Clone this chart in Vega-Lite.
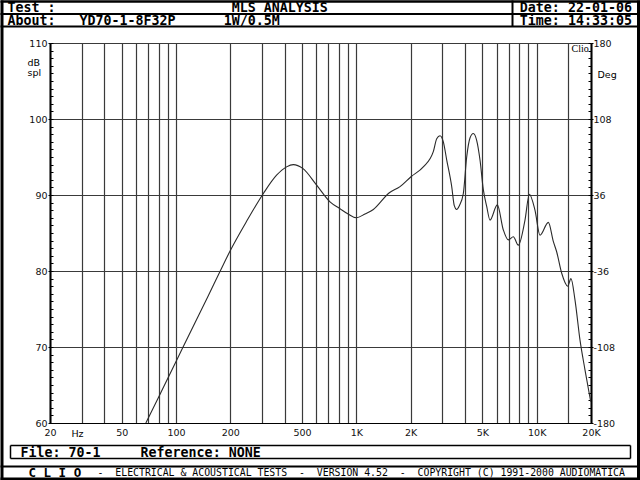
{
  "$schema": "https://vega.github.io/schema/vega-lite/v6.json",
  "width": 541,
  "height": 380,
  "autosize": {"type": "none"},
  "padding": {"left": 50, "top": 43, "right": 49, "bottom": 57},
  "background": "white",
  "config": {
    "font": "DejaVu Sans",
    "view": {"stroke": "black", "strokeWidth": 1},
    "axis": {"labelFont": "DejaVu Sans", "labelFontSize": 9.5, "labelColor": "#111111", "titleColor": "black", "titleFontWeight": "normal", "labelFlush": false, "labelOverlap": false, "labelBound": false}
  },
  "data": {
    "values": [
      {"f": 68, "db": 60},
      {"f": 80, "db": 63.4},
      {"f": 100, "db": 68.1},
      {"f": 125, "db": 72.8},
      {"f": 150, "db": 76.6},
      {"f": 175, "db": 79.9},
      {"f": 200, "db": 82.7},
      {"f": 247, "db": 86.6},
      {"f": 305, "db": 90.2},
      {"f": 361, "db": 92.6},
      {"f": 410, "db": 93.7},
      {"f": 447, "db": 94},
      {"f": 504, "db": 93.5},
      {"f": 602, "db": 91.3},
      {"f": 714, "db": 89.1},
      {"f": 811, "db": 88.2},
      {"f": 900, "db": 87.5},
      {"f": 1000, "db": 87},
      {"f": 1116, "db": 87.5},
      {"f": 1242, "db": 88.1},
      {"f": 1523, "db": 90.3},
      {"f": 1746, "db": 91.1},
      {"f": 2008, "db": 92.4},
      {"f": 2350, "db": 93.7},
      {"f": 2670, "db": 95.7},
      {"f": 2789, "db": 97.4},
      {"f": 2908, "db": 97.8},
      {"f": 3035, "db": 97},
      {"f": 3170, "db": 94.6},
      {"f": 3378, "db": 91.1},
      {"f": 3491, "db": 88.6},
      {"f": 3600, "db": 88.1},
      {"f": 3724, "db": 88.6},
      {"f": 3918, "db": 90.2},
      {"f": 4090, "db": 95},
      {"f": 4265, "db": 97.5},
      {"f": 4450, "db": 98.1},
      {"f": 4645, "db": 97.2},
      {"f": 4848, "db": 94.6},
      {"f": 5058, "db": 90.7},
      {"f": 5280, "db": 88.5},
      {"f": 5508, "db": 86.7},
      {"f": 6046, "db": 88.7},
      {"f": 6530, "db": 85.4},
      {"f": 6956, "db": 84.1},
      {"f": 7418, "db": 84.5},
      {"f": 7910, "db": 83.4},
      {"f": 8610, "db": 86.7},
      {"f": 9100, "db": 90.1},
      {"f": 9780, "db": 88},
      {"f": 10430, "db": 84.7},
      {"f": 11600, "db": 86.4},
      {"f": 12360, "db": 83.9},
      {"f": 12910, "db": 82.5},
      {"f": 13760, "db": 79.7},
      {"f": 14860, "db": 78},
      {"f": 15490, "db": 79},
      {"f": 16300, "db": 76.2},
      {"f": 17380, "db": 70.9},
      {"f": 18520, "db": 67},
      {"f": 19930, "db": 62.8}
    ]
  },
  "layer": [
    {
      "mark": {"type": "line", "color": "#2a2a2a", "strokeWidth": 1.1, "interpolate": "monotone", "clip": true},
      "encoding": {
        "x": {
          "field": "f", "type": "quantitative",
          "scale": {"type": "log", "domain": [20, 20000], "nice": false},
          "axis": {
            "orient": "bottom",
            "values": [20, 30, 40, 50, 60, 70, 80, 90, 100, 200, 300, 400, 500, 600, 700, 800, 900, 1000, 2000, 3000, 4000, 5000, 6000, 7000, 8000, 9000, 10000, 15000, 20000],
            "labelExpr": "indexof([20,50,100,200,500],datum.value)>=0 ? ''+datum.value : (indexof([1000,2000,5000,10000,20000],datum.value)>=0 ? (datum.value/1000)+'K' : '')",
            "ticks": false, "labelPadding": 4,
            "grid": true, "gridColor": "#3a3a3a", "gridWidth": 1.2,
            "domainColor": "black", "domainWidth": 1,
            "title": "Hz", "titleX": 27, "titleY": 10, "titleBaseline": "middle", "titleAlign": "center",
            "titleFont": "DejaVu Sans", "titleFontSize": 9.5, "titleFontWeight": "normal"
          }
        },
        "y": {
          "field": "db", "type": "quantitative",
          "scale": {"domain": [60, 110], "nice": false, "zero": false},
          "axis": {
            "orient": "left", "values": [60, 70, 80, 90, 100, 110],
            "grid": true, "gridColor": "#3a3a3a", "gridWidth": 1.2,
            "tickSize": 2, "tickColor": "black", "labelPadding": 1,
            "domainColor": "black", "domainWidth": 2,
            "title": ["dB", "spl"], "titleAngle": 0, "titleAlign": "left", "titleBaseline": "alphabetic",
            "titleX": -23, "titleY": 22, "titleLineHeight": 10.5, "titleFont": "DejaVu Sans", "titleFontSize": 9.5
          }
        }
      }
    },
    {
      "mark": {"type": "point", "opacity": 0},
      "encoding": {
        "x": {
          "datum": 0.5, "type": "quantitative",
          "scale": {"domain": [0, 1], "range": [-50, 590], "nice": false, "zero": false},
          "axis": {
            "orient": "top", "offset": 42, "labels": false, "ticks": false, "grid": false, "domain": true, "domainWidth": 2.5, "domainColor": "black",
            "title": "About:\u00a0\u00a0\u00a0YD70-1-8F32P\u00a0\u00a0\u00a0\u00a0\u00a0\u00a01W/0.5M\u00a0\u00a0\u00a0\u00a0\u00a0\u00a0\u00a0\u00a0\u00a0\u00a0\u00a0\u00a0\u00a0\u00a0\u00a0\u00a0\u00a0\u00a0\u00a0\u00a0\u00a0\u00a0\u00a0\u00a0\u00a0\u00a0\u00a0\u00a0\u00a0\u00a0Time: 14:33:05",
            "titleAngle": 0, "titleAlign": "left", "titleBaseline": "alphabetic", "titleAnchor": "start",
            "titleX": -43, "titleY": 23.9,
            "titleFont": "DejaVu Sans Mono", "titleFontSize": 13.3, "titleFontWeight": "bold", "titleColor": "black"
          }
        },
        "y": {
          "datum": 85, "type": "quantitative",
          "scale": {"domain": [60, 110], "nice": false, "zero": false},
          "axis": {
            "orient": "left",
            "values": [60,61,62,63,64,65,66,67,68,69,70,71,72,73,74,75,76,77,78,79,80,81,82,83,84,85,86,87,88,89,90,91,92,93,94,95,96,97,98,99,100,101,102,103,104,105,106,107,108,109,110],
            "labels": false, "grid": false, "domain": false,
            "tickSize": -3, "tickColor": "black", "tickWidth": 1,
            "title": "Test :\u00a0\u00a0\u00a0\u00a0\u00a0\u00a0\u00a0\u00a0\u00a0\u00a0\u00a0\u00a0\u00a0\u00a0\u00a0\u00a0\u00a0\u00a0\u00a0\u00a0\u00a0\u00a0MLS ANALYSIS\u00a0\u00a0\u00a0\u00a0\u00a0\u00a0\u00a0\u00a0\u00a0\u00a0\u00a0\u00a0\u00a0\u00a0\u00a0\u00a0\u00a0\u00a0\u00a0\u00a0\u00a0\u00a0\u00a0\u00a0Date: 22-01-06",
            "titleAngle": 0, "titleAlign": "left", "titleBaseline": "alphabetic",
            "titleX": -43, "titleY": -31.5,
            "titleFont": "DejaVu Sans Mono", "titleFontSize": 13.3, "titleFontWeight": "bold", "titleColor": "black"
          }
        }
      }
    },
    {
      "mark": {"type": "point", "opacity": 0},
      "encoding": {
        "x": {
          "datum": 0.5, "type": "quantitative",
          "scale": {"domain": [0, 1], "range": [-50, 590], "nice": false, "zero": false},
          "axis": {"orient": "top", "offset": 29.5, "labels": false, "ticks": false, "grid": false, "domain": true, "domainWidth": 2, "domainColor": "black", "title": null}
        },
        "y": {
          "datum": 85, "type": "quantitative",
          "scale": {"domain": [60, 110], "nice": false, "zero": false},
          "axis": {
            "orient": "right", "values": [60, 70, 80, 90, 100, 110],
            "labelExpr": "''+round((datum.value-85)*7.2)",
            "grid": false, "tickSize": 2, "tickColor": "black", "labelPadding": 0,
            "domainColor": "black", "domainWidth": 2,
            "title": "Deg", "titleAngle": 0, "titleAlign": "left", "titleBaseline": "alphabetic",
            "titleX": 6, "titleY": 34, "titleFont": "DejaVu Sans", "titleFontSize": 9.5
          }
        }
      }
    },
    {
      "mark": {"type": "point", "opacity": 0},
      "encoding": {
        "x": {
          "datum": 0.5, "type": "quantitative",
          "scale": {"domain": [0, 1], "range": [-50, 590], "nice": false, "zero": false},
          "axis": {"orient": "top", "offset": 17, "labels": false, "ticks": false, "grid": false, "domain": true, "domainWidth": 2, "domainColor": "black", "title": null}
        },
        "y": {
          "datum": 85, "type": "quantitative",
          "scale": {"domain": [60, 110], "nice": false, "zero": false},
          "axis": {
            "orient": "right",
            "values": [60,61,62,63,64,65,66,67,68,69,70,71,72,73,74,75,76,77,78,79,80,81,82,83,84,85,86,87,88,89,90,91,92,93,94,95,96,97,98,99,100,101,102,103,104,105,106,107,108,109,110],
            "labels": false, "grid": false, "domain": false,
            "tickSize": -3, "tickColor": "black", "tickWidth": 1,
            "title": "File: 70-1\u00a0\u00a0\u00a0\u00a0\u00a0Reference: NONE",
            "titleAngle": 0, "titleAlign": "left", "titleBaseline": "alphabetic",
            "titleX": -571, "titleY": 413.3,
            "titleFont": "DejaVu Sans Mono", "titleFontSize": 13.3, "titleFontWeight": "bold", "titleColor": "black"
          }
        }
      }
    },
    {
      "mark": {"type": "point", "opacity": 0},
      "encoding": {
        "x": {
          "datum": 0.5, "type": "quantitative",
          "scale": {"domain": [0, 1], "range": [-50, 590], "nice": false, "zero": false},
          "axis": {"orient": "bottom", "offset": 43, "labels": false, "ticks": false, "grid": false, "domain": true, "domainWidth": 2, "domainColor": "black", "title": null}
        },
        "y": {
          "datum": 0.5, "type": "quantitative",
          "scale": {"domain": [0, 1], "range": [437, -43], "nice": false, "zero": false},
          "axis": {
            "orient": "left", "offset": 48.5,
            "labels": false, "ticks": false, "grid": false,
            "domain": true, "domainWidth": 3, "domainColor": "black",
            "title": "-\u00a0\u00a0ELECTRICAL & ACOUSTICAL TESTS\u00a0\u00a0-\u00a0\u00a0VERSION 4.52\u00a0\u00a0-\u00a0\u00a0COPYRIGHT (C) 1991-2000 AUDIOMATICA",
            "titleAngle": 0, "titleAlign": "left", "titleBaseline": "alphabetic",
            "titleX": 95.5, "titleY": 432.6,
            "titleFont": "DejaVu Sans Mono", "titleFontSize": 9.85, "titleFontWeight": "normal", "titleColor": "black"
          }
        }
      }
    },
    {
      "mark": {"type": "point", "opacity": 0},
      "encoding": {
        "x": {
          "datum": 0.5, "type": "quantitative",
          "scale": {"domain": [0, 1], "range": [-50, 590], "nice": false, "zero": false},
          "axis": {"orient": "bottom", "offset": 55.5, "labels": false, "ticks": false, "grid": false, "domain": true, "domainWidth": 3, "domainColor": "black", "title": null}
        },
        "y": {
          "datum": 0.5, "type": "quantitative",
          "scale": {"domain": [0, 1], "range": [437, -43], "nice": false, "zero": false},
          "axis": {
            "orient": "right", "offset": 47,
            "labels": false, "ticks": false, "grid": false,
            "domain": true, "domainWidth": 3, "domainColor": "black",
            "title": "Clio", "titleAngle": 0, "titleAlign": "left", "titleBaseline": "alphabetic",
            "titleX": -67, "titleY": 8, "titleFont": "Liberation Serif", "titleFontSize": 10, "titleFontWeight": "normal", "titleColor": "black"
          }
        }
      }
    },
    {
      "mark": {"type": "point", "opacity": 0},
      "encoding": {
        "x": {
          "datum": 0.5, "type": "quantitative",
          "scale": {"domain": [0, 1], "range": [-40, 580], "nice": false, "zero": false},
          "axis": {"orient": "bottom", "offset": 22, "labels": false, "ticks": false, "grid": false, "domain": true, "domainWidth": 1.5, "domainColor": "black", "title": null}
        },
        "y": {
          "datum": 0.5, "type": "quantitative",
          "scale": {"domain": [0, 1], "range": [-17, -43], "nice": false, "zero": false},
          "axis": {
            "orient": "right", "offset": -79,
            "labels": false, "ticks": false, "grid": false,
            "domain": true, "domainWidth": 2, "domainColor": "black",
            "title": "C\u00a0L\u00a0I\u00a0O", "titleAngle": 0, "titleAlign": "left", "titleBaseline": "alphabetic",
            "titleX": -484, "titleY": 433.1, "titleFont": "DejaVu Sans Mono", "titleFontSize": 12.5, "titleFontWeight": "bold", "titleColor": "black"
          }
        }
      }
    },
    {
      "mark": {"type": "point", "opacity": 0},
      "encoding": {
        "x": {
          "datum": 0.5, "type": "quantitative",
          "scale": {"domain": [0, 1], "range": [-40, 580], "nice": false, "zero": false},
          "axis": {"orient": "bottom", "offset": 35, "labels": false, "ticks": false, "grid": false, "domain": true, "domainWidth": 1.5, "domainColor": "black", "title": null}
        },
        "y": {
          "datum": 0.5, "type": "quantitative",
          "scale": {"domain": [0, 1], "range": [415, 402], "nice": false, "zero": false},
          "axis": {
            "orient": "left", "offset": 40,
            "labels": false, "ticks": false, "grid": false,
            "domain": true, "domainWidth": 1.5, "domainColor": "black", "title": null
          }
        }
      }
    },
    {
      "mark": {"type": "point", "opacity": 0},
      "encoding": {
        "y": {
          "datum": 0.5, "type": "quantitative",
          "scale": {"domain": [0, 1], "range": [415, 402], "nice": false, "zero": false},
          "axis": {
            "orient": "right", "offset": 39,
            "labels": false, "ticks": false, "grid": false,
            "domain": true, "domainWidth": 1.5, "domainColor": "black", "title": null
          }
        }
      }
    }
  ],
  "resolve": {
    "scale": {"x": "independent", "y": "independent"},
    "axis": {"x": "independent", "y": "independent"}
  }
}
